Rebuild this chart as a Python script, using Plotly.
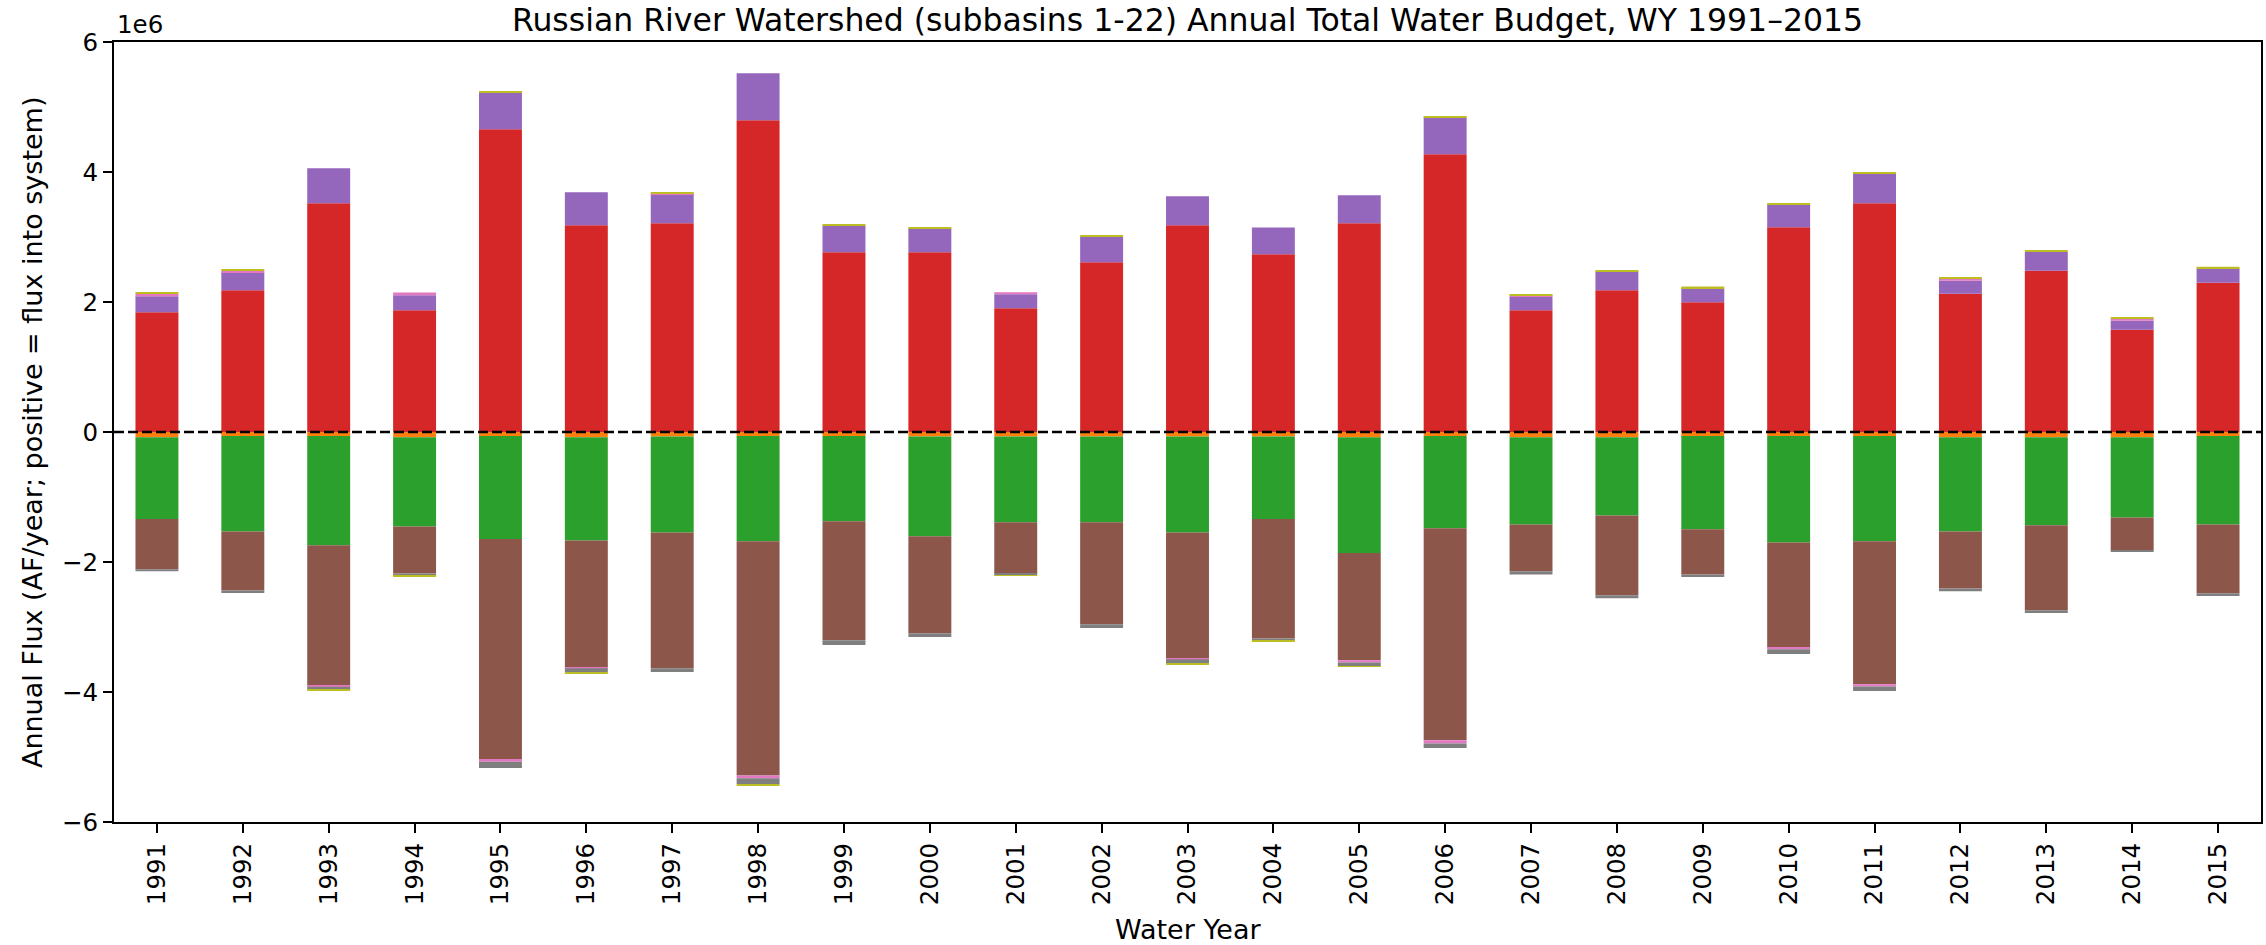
import plotly.graph_objects as go

# Water years
years = [str(y) for y in range(1991, 2016)]

# Annual fluxes, acre-feet per year (positive = into the system)
diversions = [-0.08e6, -0.06e6, -0.06e6, -0.08e6, -0.06e6, -0.08e6, -0.07e6, -0.06e6, -0.06e6, -0.07e6,
              -0.07e6, -0.07e6, -0.07e6, -0.07e6, -0.08e6, -0.06e6, -0.08e6, -0.08e6, -0.06e6, -0.06e6,
              -0.06e6, -0.08e6, -0.08e6, -0.08e6, -0.06e6]
streamflow_out = [-1.257e6, -1.469e6, -1.683e6, -1.375e6, -1.587e6, -1.588e6, -1.475e6, -1.619e6, -1.314e6, -1.534e6,
                  -1.320e6, -1.320e6, -1.475e6, -1.267e6, -1.781e6, -1.421e6, -1.342e6, -1.203e6, -1.437e6, -1.640e6,
                  -1.619e6, -1.449e6, -1.353e6, -1.236e6, -1.362e6]
precipitation = [1.841e6, 2.180e6, 3.518e6, 1.872e6, 4.656e6, 3.180e6, 3.210e6, 4.795e6, 2.764e6, 2.764e6,
                 1.903e6, 2.610e6, 3.180e6, 2.733e6, 3.210e6, 4.272e6, 1.872e6, 2.180e6, 1.995e6, 3.149e6,
                 3.518e6, 2.128e6, 2.482e6, 1.574e6, 2.297e6]
boundary_inflow = [0.246e6, 0.277e6, 0.538e6, 0.230e6, 0.569e6, 0.508e6, 0.451e6, 0.723e6, 0.415e6, 0.369e6,
                   0.215e6, 0.400e6, 0.446e6, 0.415e6, 0.431e6, 0.569e6, 0.205e6, 0.282e6, 0.220e6, 0.354e6,
                   0.460e6, 0.200e6, 0.292e6, 0.138e6, 0.221e6]
evapotranspiration = [-0.775e6, -0.909e6, -2.155e6, -0.722e6, -3.385e6, -1.952e6, -2.090e6, -3.604e6, -1.829e6, -1.492e6,
                      -0.786e6, -1.567e6, -1.936e6, -1.840e6, -1.652e6, -3.262e6, -0.722e6, -1.230e6, -0.695e6, -1.615e6,
                      -2.203e6, -0.877e6, -1.310e6, -0.508e6, -1.059e6]
storage_change = [0.040e6, 0.030e6, -0.020e6, 0.046e6, -0.043e6, -0.016e6, 0.015e6, -0.043e6, 0.0, 0.0,
                  0.031e6, 0.0, -0.016e6, 0.0, -0.032e6, -0.048e6, 0.026e6, 0.008e6, 0.0, -0.027e6,
                  -0.032e6, 0.031e6, 0.0, 0.031e6, 0.0]
pumping = [-0.032e6, -0.037e6, -0.048e6, -0.037e6, -0.096e6, -0.064e6, -0.059e6, -0.091e6, -0.075e6, -0.059e6,
           -0.027e6, -0.059e6, -0.064e6, -0.037e6, -0.059e6, -0.070e6, -0.048e6, -0.043e6, -0.037e6, -0.075e6,
           -0.070e6, -0.043e6, -0.043e6, -0.021e6, -0.043e6]
other = [0.020e6, 0.020e6, -0.015e6, -0.016e6, 0.020e6, -0.010e6, 0.010e6, -0.016e6, 0.015e6, 0.015e6,
         -0.011e6, 0.015e6, -0.010e6, -0.016e6, -0.010e6, 0.015e6, 0.015e6, 0.020e6, 0.025e6, 0.015e6,
         0.015e6, 0.015e6, 0.015e6, 0.015e6, 0.026e6]

y_ticks = [-6e6, -4e6, -2e6, 0, 2e6, 4e6, 6e6]
y_tick_text = ["\u22126", "\u22124", "\u22122", "0", "2", "4", "6"]

series = [
    ("Diversions", diversions, "#ff7f0e"),
    ("Streamflow out", streamflow_out, "#2ca02c"),
    ("Precipitation", precipitation, "#d62728"),
    ("Boundary inflow", boundary_inflow, "#9467bd"),
    ("Evapotranspiration", evapotranspiration, "#8c564b"),
    ("Storage change", storage_change, "#e377c2"),
    ("Groundwater pumping", pumping, "#7f7f7f"),
    ("Other", other, "#bcbd22"),
]

FONT = "DejaVu Sans"
W, H = 2266, 945
L, R, T, B = 114, 3, 42, 123
plot_w = W - L - R
plot_h = H - T - B
TICK_SIZE = 24.5
LABEL_SIZE = 27
TITLE_SIZE = 31.5

fig = go.Figure()
for name, vals, color in series:
    fig.add_trace(go.Bar(
        x=years, y=vals, name=name, width=0.5,
        marker=dict(color=color, line=dict(width=0)),
    ))

# zero reference line
fig.add_shape(type="line", xref="paper", yref="y", x0=0, x1=1, y0=0, y1=0,
              line=dict(color="black", width=2.5, dash="10px,4px"), layer="above")

fig.update_layout(
    width=W, height=H,
    margin=dict(l=L, r=R, t=T, b=B),
    barmode="relative",
    showlegend=False,
    plot_bgcolor="white", paper_bgcolor="white",
    font=dict(family=FONT, size=TICK_SIZE, color="black"),
    title=dict(
        text="Russian River Watershed (subbasins 1-22) Annual Total Water Budget, WY 1991\u20132015",
        font=dict(family=FONT, size=TITLE_SIZE, color="black"),
        x=0.5, xref="paper", xanchor="center",
        y=1 - 20 / H, yref="container", yanchor="middle",
    ),
    xaxis=dict(
        type="category", range=[-0.5, 24.5],
        tickangle=-90, ticks="outside", ticklen=9, tickwidth=2, tickcolor="black",
        showline=True, linecolor="black", linewidth=2, mirror=True,
        showgrid=False, zeroline=False,
        tickfont=dict(family=FONT, size=TICK_SIZE, color="black"),
    ),
    yaxis=dict(
        range=[-6e6, 6e6], tickvals=y_ticks, ticktext=y_tick_text,
        ticks="outside", ticklen=9, tickwidth=2, tickcolor="black",
        showline=True, linecolor="black", linewidth=2, mirror=True,
        showgrid=False, zeroline=False,
        tickfont=dict(family=FONT, size=TICK_SIZE, color="black"),
    ),
    annotations=[
        dict(text="1e6", xref="paper", yref="paper", x=0.0005, y=1 + (T - 24) / plot_h,
             xanchor="left", yanchor="middle", showarrow=False,
             font=dict(family=FONT, size=TICK_SIZE, color="black")),
        dict(text="Annual Flux (AF/year; positive = flux into system)", xref="paper", yref="paper",
             x=(32 - L) / plot_w, y=0.5, xanchor="center", yanchor="middle", textangle=-90,
             showarrow=False, font=dict(family=FONT, size=LABEL_SIZE, color="black")),
        dict(text="Water Year", xref="paper", yref="paper",
             x=0.5, y=-(929 - (T + plot_h)) / plot_h, xanchor="center", yanchor="middle",
             showarrow=False, font=dict(family=FONT, size=LABEL_SIZE, color="black")),
    ],
)

fig.write_html("out.html")
